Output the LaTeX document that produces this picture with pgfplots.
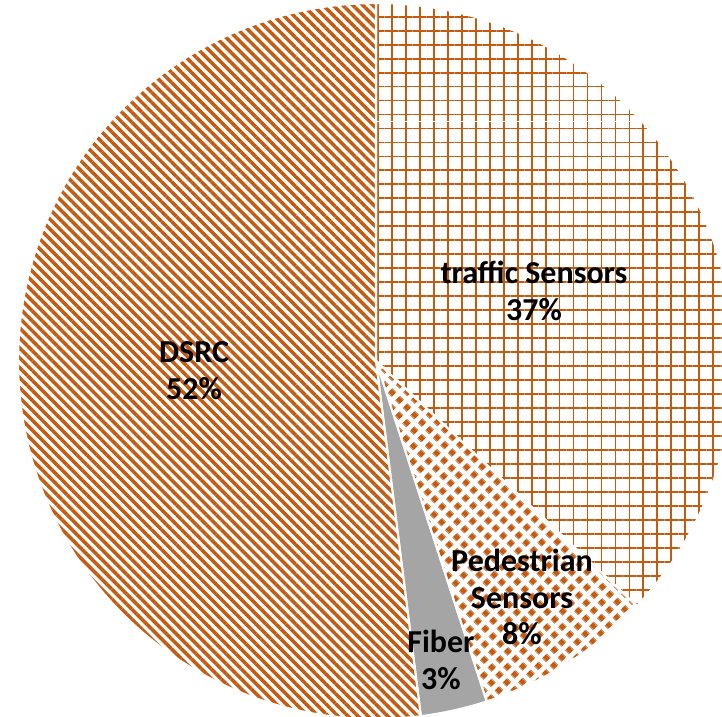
\documentclass[border=0pt]{standalone}
\usepackage{pgfplots}
\pgfplotsset{compat=1.18}
\usepackage{fontspec}
\setmainfont{Carlito}
\usetikzlibrary{patterns.meta}
\definecolor{pieorange}{RGB}{197,90,17}
\definecolor{piegray}{RGB}{165,165,165}
\pgfdeclarepattern{
  name=DiamondDots,
  type=uncolored,
  bottom left={\pgfpoint{0cm}{0cm}},
  top right={\pgfpoint{0.106cm}{0.106cm}},
  tile size={\pgfpoint{0.106cm}{0.106cm}},
  tile transformation={\pgftransformrotate{45}},
  code={
    \pgfpathrectangle{\pgfpoint{0.022cm}{0.022cm}}{\pgfpoint{0.062cm}{0.062cm}}
    \pgfusepath{fill}
  }
}
% data: share of each slice (percent), clockwise from 12 o'clock
\def\vTraffic{37}
\def\vPed{8}
\def\vFiber{3}
\def\vDSRC{52}
\pgfmathsetmacro\aA{90}
\pgfmathsetmacro\aB{\aA-\vTraffic*3.6}
\pgfmathsetmacro\aC{\aB-\vPed*3.6}
\pgfmathsetmacro\aD{\aC-\vFiber*3.6}
\pgfmathsetmacro\aE{\aD-\vDSRC*3.6}
\def\cx{3.76}
\def\cy{3.55}
\def\R{3.58}
\begin{document}
\begin{tikzpicture}
\useasboundingbox (0,0) rectangle (7.22,7.16);
\clip (0,0) rectangle (7.22,7.16);
\begin{axis}[at={(0,0)}, anchor=south west, x=1cm, y=1cm,
  xmin=0, xmax=7.22, ymin=0, ymax=7.16, hide axis, clip=false]
% traffic sensors
\path[pattern={Hatch[angle=0,distance=3.98pt,line width=0.55pt]}, pattern color=pieorange,
  draw=white, line width=0.6pt]
  (axis cs:\cx,\cy) -- ++(\aA:\R) arc[start angle=\aA, end angle=\aB, radius=\R cm] -- cycle;
% pedestrian sensors
\path[pattern=DiamondDots, pattern color=pieorange, draw=white, line width=0.6pt]
  (axis cs:\cx,\cy) -- ++(\aB:\R) arc[start angle=\aB, end angle=\aC, radius=\R cm] -- cycle;
% fiber
\path[fill=piegray, draw=white, line width=0.6pt]
  (axis cs:\cx,\cy) -- ++(\aC:\R) arc[start angle=\aC, end angle=\aD, radius=\R cm] -- cycle;
% DSRC
\path[pattern={Lines[angle=-45,distance=2pt,line width=1pt]}, pattern color=pieorange,
  draw=white, line width=0.6pt]
  (axis cs:\cx,\cy) -- ++(\aD:\R) arc[start angle=\aD, end angle=\aE, radius=\R cm] -- cycle;
\begin{scope}[every node/.style={align=center, font=\fontsize{9.1}{10.5}\selectfont\bfseries}]
\node at (axis cs:5.34,4.25) {traffic Sensors\\\vTraffic\%};
\node at (axis cs:1.94,3.45) {DSRC\\\vDSRC\%};
\node at (axis cs:5.22,1.19) {Pedestrian\\Sensors\\\vPed\%};
\node at (axis cs:4.41,0.56) {Fiber\\\vFiber\%};
\end{scope}
\end{axis}
\end{tikzpicture}
\end{document}
